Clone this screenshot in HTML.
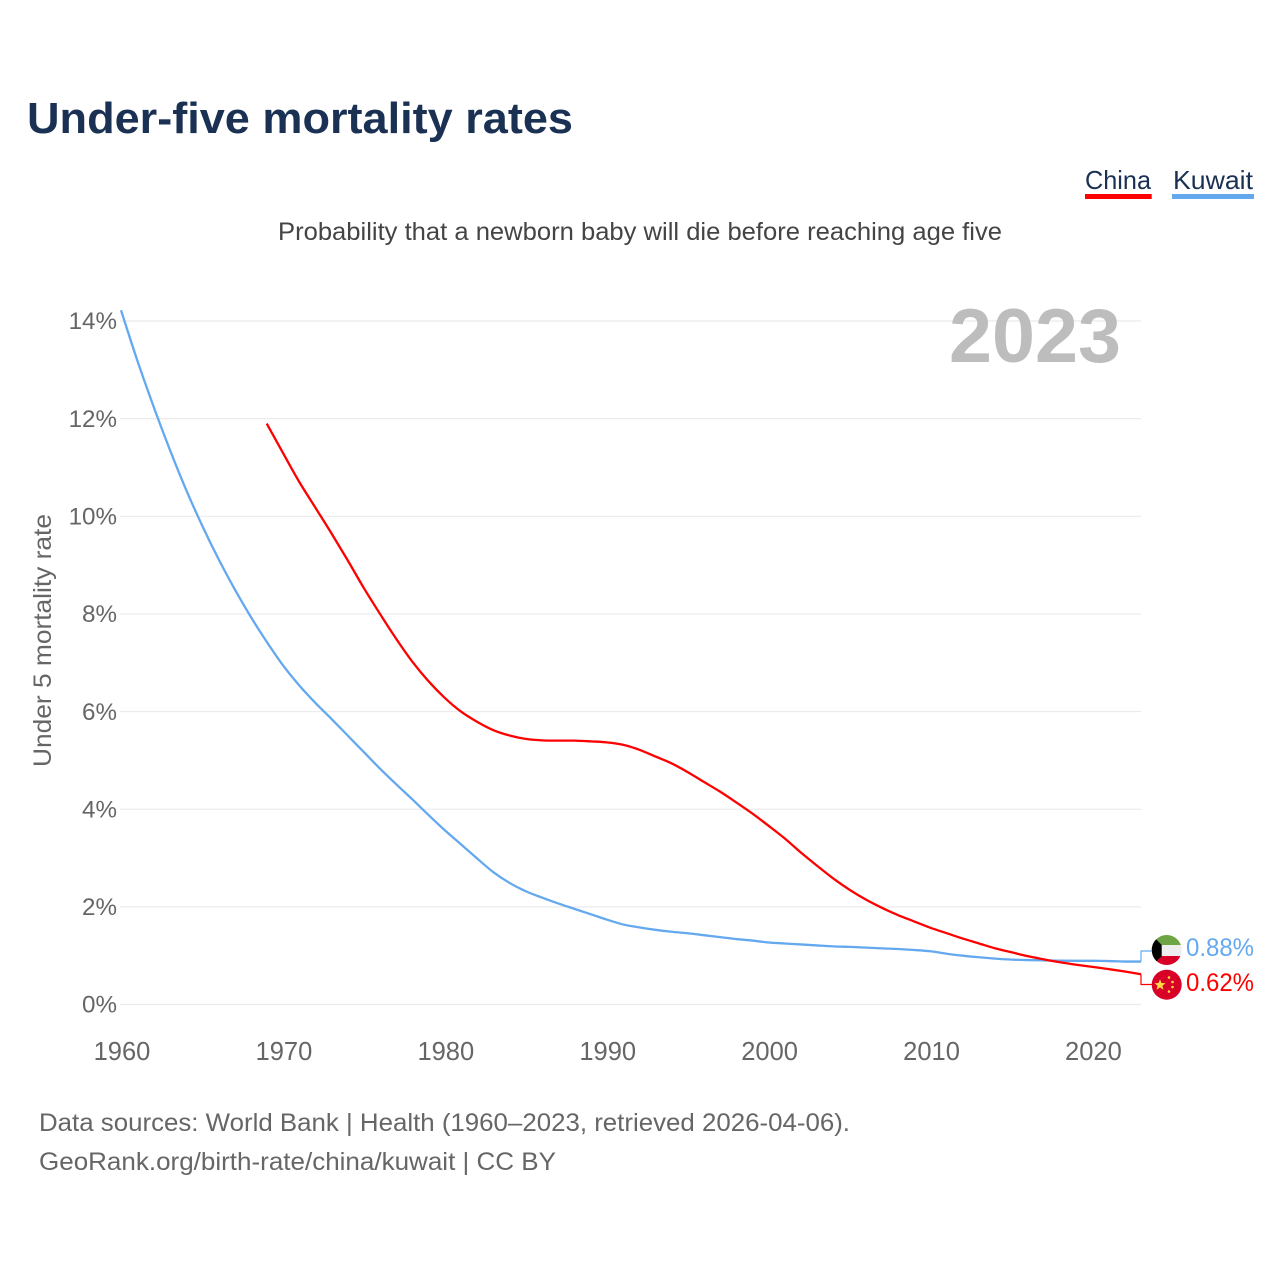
<!DOCTYPE html>
<html lang="en">
<head>
<meta charset="utf-8">
<title>Under-five mortality rates</title>
<style>
html,body{margin:0;padding:0;background:#fff;}
body{width:1280px;height:1280px;overflow:hidden;}
svg{display:block;}
text{font-family:"Liberation Sans",Arial,sans-serif;}
</style>
</head>
<body>
<svg id="chart" xmlns="http://www.w3.org/2000/svg" width="1280" height="1280" viewBox="0 0 1280 1280">
  <defs>
    <clipPath id="kw-clip"><circle cx="1166.7" cy="950" r="15"/></clipPath>
    <clipPath id="cn-clip"><circle cx="1166.7" cy="984.7" r="15"/></clipPath>
  </defs>
  <rect x="0" y="0" width="1280" height="1280" fill="#fff"/>
  <text x="27" y="133" font-size="44" font-weight="700" fill="#1a3153" textLength="546" lengthAdjust="spacingAndGlyphs">Under-five mortality rates</text>
  <g>
    <g>
      <text x="1085" y="189" font-size="26" fill="#1a3153" textLength="66" lengthAdjust="spacingAndGlyphs">China</text>
      <rect x="1085" y="194" width="66.7" height="5" fill="#ff0000"/>
    </g>
    <g>
      <text x="1173" y="189" font-size="26" fill="#1a3153" textLength="80" lengthAdjust="spacingAndGlyphs">Kuwait</text>
      <rect x="1172" y="194" width="82" height="5" fill="#64a9ef"/>
    </g>
  </g>
  <text x="278" y="240" font-size="25" fill="#444" textLength="724" lengthAdjust="spacingAndGlyphs">Probability that a newborn baby will die before reaching age five</text>
  <g id="grid"></g>
  <g id="y-ticks"></g>
  <g id="x-ticks"></g>
  <text x="0" y="0" transform="translate(51 767) rotate(-90)" font-size="25" fill="#666" textLength="253" lengthAdjust="spacingAndGlyphs">Under 5 mortality rate</text>
  <text x="949" y="362" font-size="76" font-weight="700" fill="#bdbdbd" textLength="172" lengthAdjust="spacingAndGlyphs">2023</text>
  <g id="series"></g>

  <g clip-path="url(#kw-clip)">
    <rect x="1151" y="934" width="32" height="11" fill="#6da544"/>
    <rect x="1151" y="945" width="32" height="11" fill="#eeeeee"/>
    <rect x="1151" y="956" width="32" height="11" fill="#d80027"/>
    <polygon points="1151,934 1161.7,945 1161.7,956 1151,967" fill="#000"/>
  </g>
  <g clip-path="url(#cn-clip)">
    <rect x="1151" y="969" width="32" height="32" fill="#d80027"/>
    <polygon points="1160,979.2 1161.5,983 1165.6,983.2 1162.4,985.8 1163.5,989.7 1160,987.5 1156.5,989.7 1157.6,985.8 1154.4,983.2 1158.5,983" fill="#ffda44"/>
    <circle cx="1169" cy="977.5" r="1.3" fill="#ffda44"/>
    <circle cx="1172.5" cy="982" r="1.3" fill="#ffda44"/>
    <circle cx="1172.5" cy="987" r="1.3" fill="#ffda44"/>
    <circle cx="1169" cy="991.5" r="1.3" fill="#ffda44"/>
  </g>
  <g id="end-labels"></g>

  <text x="39" y="1131" font-size="25" fill="#666" textLength="811" lengthAdjust="spacingAndGlyphs">Data sources: World Bank | Health (1960–2023, retrieved 2026-04-06).</text>
  <text x="39" y="1170" font-size="25" fill="#666" textLength="517" lengthAdjust="spacingAndGlyphs">GeoRank.org/birth-rate/china/kuwait | CC BY</text>
</svg>
<script>
var xTickYears = [1960, 1970, 1980, 1990, 2000, 2010, 2020];
var yTickValues = [0, 2, 4, 6, 8, 10, 12, 14];
var kuwaitStartYear = 1960;
var kuwaitValues = [14.22,13.2,12.26,11.38,10.56,9.82,9.14,8.52,7.95,7.43,6.95,6.54,6.18,5.85,5.51,5.17,4.83,4.51,4.20,3.88,3.57,3.28,2.99,2.71,2.49,2.32,2.19,2.07,1.96,1.85,1.74,1.64,1.58,1.53,1.49,1.46,1.42,1.38,1.34,1.31,1.27,1.25,1.23,1.21,1.19,1.18,1.165,1.15,1.137,1.117,1.09,1.04,1.00,0.967,0.94,0.92,0.91,0.905,0.897,0.895,0.895,0.89,0.88,0.88];
var chinaStartYear = 1969;
var chinaValues = [11.90,11.30,10.71,10.18,9.65,9.10,8.53,8.00,7.49,7.02,6.62,6.28,6.00,5.79,5.62,5.51,5.44,5.41,5.405,5.405,5.39,5.37,5.32,5.22,5.08,4.94,4.76,4.56,4.36,4.14,3.91,3.66,3.40,3.11,2.84,2.58,2.35,2.15,1.98,1.83,1.70,1.57,1.46,1.35,1.25,1.15,1.07,0.99,0.925,0.865,0.815,0.77,0.725,0.675,0.62];

var NS = 'http://www.w3.org/2000/svg';
function xScale(year) { return 121 + (year - 1960) * (1141 - 121) / 63; }
function yScale(value) { return 1004.5 - value * 48.82; }
function make(tag, attrs, parent, content) {
  var el = document.createElementNS(NS, tag);
  for (var k in attrs) { el.setAttribute(k, attrs[k]); }
  if (content !== undefined) { el.textContent = content; }
  parent.appendChild(el);
  return el;
}
function linePath(startYear, values) {
  var pts = values.map(function (v, i) { return [xScale(startYear + i), yScale(v)]; });
  var d = 'M' + pts[0][0].toFixed(2) + ' ' + pts[0][1].toFixed(2);
  for (var i = 0; i < pts.length - 1; i++) {
    var p0 = pts[Math.max(i - 1, 0)];
    var p1 = pts[i];
    var p2 = pts[i + 1];
    var p3 = pts[Math.min(i + 2, pts.length - 1)];
    var c1x = p1[0] + (p2[0] - p0[0]) / 6;
    var c1y = p1[1] + (p2[1] - p0[1]) / 6;
    var c2x = p2[0] - (p3[0] - p1[0]) / 6;
    var c2y = p2[1] - (p3[1] - p1[1]) / 6;
    d += ' C' + c1x.toFixed(2) + ' ' + c1y.toFixed(2) + ' ' + c2x.toFixed(2) + ' ' + c2y.toFixed(2) + ' ' + p2[0].toFixed(2) + ' ' + p2[1].toFixed(2);
  }
  return d;
}

var gridGroup = document.getElementById('grid');
var yTickGroup = document.getElementById('y-ticks');
var xTickGroup = document.getElementById('x-ticks');
var seriesGroup = document.getElementById('series');
var endGroup = document.getElementById('end-labels');

yTickValues.forEach(function (v) {
  var line = make('line', { x1: 120, x2: 1141, y1: yScale(v), y2: yScale(v), stroke: '#ebebeb', 'stroke-width': 1.2 }, gridGroup);
  
  
  var label = make('text', { x: 117, y: yScale(v) + 8.2, 'text-anchor': 'end', 'font-size': 24.2, fill: '#666' }, yTickGroup, v + '%');
  
  
});

xTickYears.forEach(function (yr) {
  var label = make('text', { x: xScale(yr) + 1, y: 1060, 'text-anchor': 'middle', 'font-size': 25.5, fill: '#666' }, xTickGroup, String(yr));
  
  
});

var kuwaitLine = make('path', { d: linePath(kuwaitStartYear, kuwaitValues), fill: 'none', stroke: '#64a9ef', 'stroke-width': 2.3, 'stroke-linejoin': 'round' }, seriesGroup);



var chinaLine = make('path', { d: linePath(chinaStartYear, chinaValues), fill: 'none', stroke: '#ff0000', 'stroke-width': 2.3, 'stroke-linejoin': 'round' }, seriesGroup);



var kuwaitLast = kuwaitValues[kuwaitValues.length - 1];
var chinaLast = chinaValues[chinaValues.length - 1];

var kuwaitConnector = make('path', { d: 'M1141 ' + yScale(kuwaitLast).toFixed(2) + ' V951 H1152', fill: 'none', stroke: '#64a9ef', 'stroke-width': 1.2 }, endGroup);



var chinaConnector = make('path', { d: 'M1141 ' + yScale(chinaLast).toFixed(2) + ' V984.5 H1152', fill: 'none', stroke: '#ff0000', 'stroke-width': 1.2 }, endGroup);



var kuwaitValueLabel = make('text', { x: 1186, y: 956, 'font-size': 25, fill: '#64a9ef', textLength: 68, lengthAdjust: 'spacingAndGlyphs' }, endGroup, kuwaitLast.toFixed(2) + '%');



var chinaValueLabel = make('text', { x: 1186, y: 991, 'font-size': 25, fill: '#ff0000', textLength: 68, lengthAdjust: 'spacingAndGlyphs' }, endGroup, chinaLast.toFixed(2) + '%');


</script>
</body>
</html>
